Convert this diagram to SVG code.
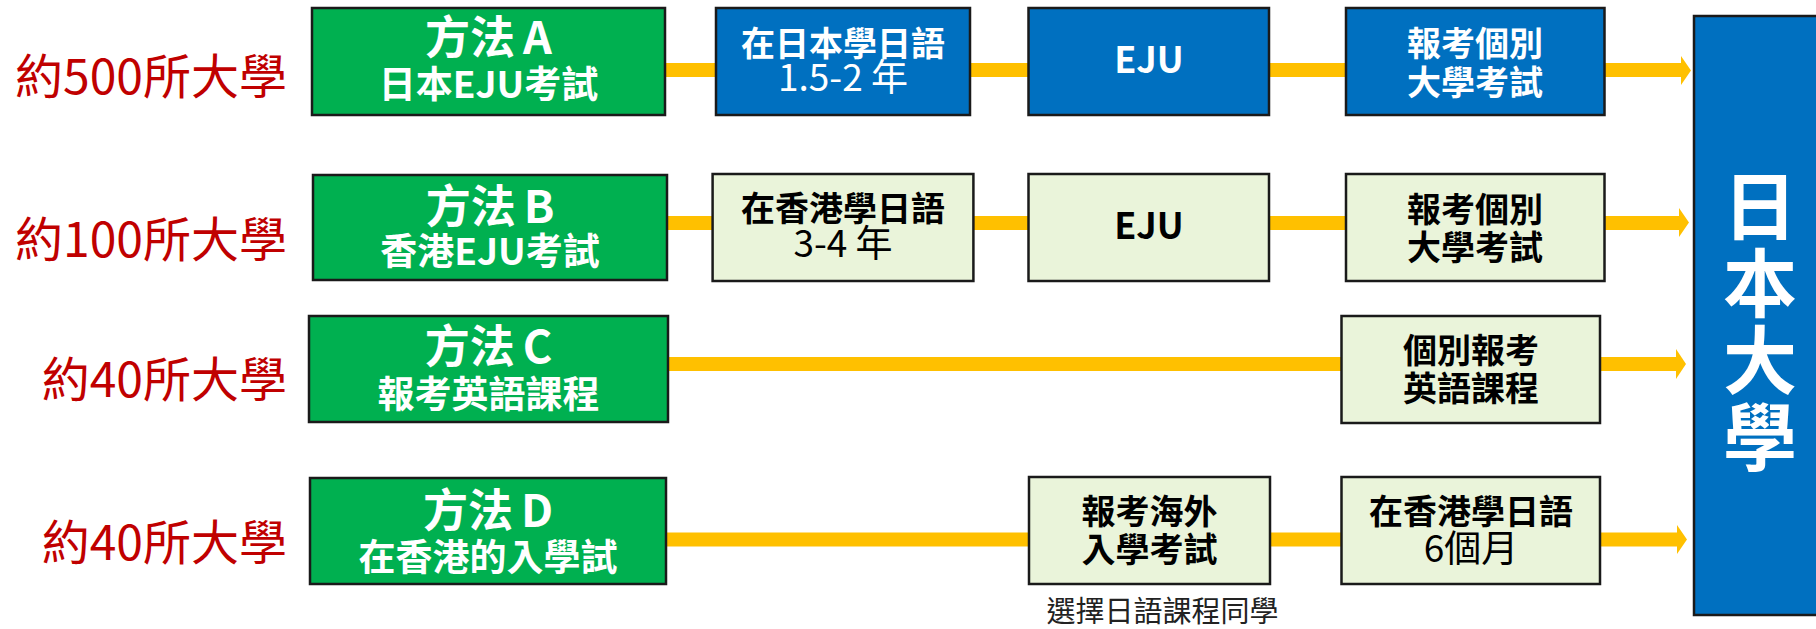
<svg xmlns="http://www.w3.org/2000/svg" width="1816" height="629" viewBox="0 0 1816 629">
<style>
.lbl{font-family:"Noto Sans CJK TC","Noto Sans CJK SC",sans-serif;font-size:48px;fill:#C00000;text-anchor:end}
.m{fill:#00B050;stroke:#1a1a1a;stroke-width:2.5}
.b{fill:#0070C0;stroke:#1a1a1a;stroke-width:2.5}
.l{fill:#EAF4DA;stroke:#1a1a1a;stroke-width:2.5}
.t{font-family:"Noto Sans CJK TC","Noto Sans CJK SC",sans-serif;text-anchor:middle}
.h1{font-size:45px;font-weight:bold;fill:#fff}
.h2{font-size:37px;font-weight:bold;fill:#fff}
.bw{font-size:34px;font-weight:bold;fill:#fff}
.rw{font-size:37px;font-weight:normal;fill:#fff}
.bk{font-size:34px;font-weight:bold;fill:#000}
.rk{font-size:37px;font-weight:normal;fill:#000}
.ej{font-size:36px;font-weight:bold}
.big{font-size:74px;font-weight:bold;fill:#fff}
.cap{font-size:29px;fill:#222}
.line{stroke:#FFC000;stroke-width:14;fill:none}
.head{fill:#FFC000}
</style>
<g id="connectors">
<line class="line" x1="665" y1="70" x2="1683" y2="70"/>
<polygon class="head" points="1681,56 1691,70.5 1681,85"/>
<line class="line" x1="667" y1="223" x2="1681" y2="223"/>
<polygon class="head" points="1679,208 1689,222.5 1679,237"/>
<line class="line" x1="668" y1="364" x2="1678" y2="364"/>
<polygon class="head" points="1676,349 1686,364 1676,379"/>
<line class="line" x1="666" y1="539.5" x2="1679" y2="539.5"/>
<polygon class="head" points="1677,525 1687,539.5 1677,554"/>
</g>
<g id="label-a"><text class="lbl" x="287" y="94">約500所大學</text></g>
<g id="label-b"><text class="lbl" x="287" y="257">約100所大學</text></g>
<g id="label-c"><text class="lbl" x="287" y="397">約40所大學</text></g>
<g id="label-d"><text class="lbl" x="287" y="560">約40所大學</text></g>
<g id="method-a"><rect class="m" x="312" y="8" width="353" height="107"/>
<text class="t h1" x="488.5" y="54">方法<tspan dx="8">A</tspan></text><text class="t h2" x="488.5" y="98">日本EJU考試</text></g>
<g id="method-b"><rect class="m" x="313" y="175" width="354" height="105"/>
<text class="t h1" x="490" y="223">方法<tspan dx="8">B</tspan></text><text class="t h2" x="490" y="265">香港EJU考試</text></g>
<g id="method-c"><rect class="m" x="309" y="316" width="359" height="106"/>
<text class="t h1" x="488.5" y="363">方法<tspan dx="8">C</tspan></text><text class="t h2" x="488.5" y="408">報考英語課程</text></g>
<g id="method-d"><rect class="m" x="310" y="478" width="356" height="106"/>
<text class="t h1" x="488" y="527">方法<tspan dx="8">D</tspan></text><text class="t h2" x="488" y="571">在香港的入學試</text></g>
<g id="a1"><rect class="b" x="716" y="8" width="254" height="107"/>
<text class="t bw" x="843" y="55.5">在日本學日語</text><text class="t rw" x="843" y="91">1.5-2 年</text></g>
<g id="a2"><rect class="b" x="1028.5" y="8" width="240.5" height="107"/>
<text class="t ej" fill="#fff" x="1149" y="73">EJU</text></g>
<g id="a3"><rect class="b" x="1346" y="8" width="258.5" height="107"/>
<text class="t bw" x="1475" y="55.5">報考個別</text><text class="t bw" x="1475" y="94.5">大學考試</text></g>
<g id="b1"><rect class="l" x="712.6" y="174" width="260.8" height="107"/>
<text class="t bk" x="843" y="221">在香港學日語</text><text class="t rk" x="843" y="257">3-4 年</text></g>
<g id="b2"><rect class="l" x="1028.5" y="174" width="240.5" height="107"/>
<text class="t ej" fill="#000" x="1149" y="239">EJU</text></g>
<g id="b3"><rect class="l" x="1346" y="174" width="258.5" height="107"/>
<text class="t bk" x="1475" y="221.5">報考個別</text><text class="t bk" x="1475" y="259.5">大學考試</text></g>
<g id="c3"><rect class="l" x="1341.5" y="316" width="258.5" height="107"/>
<text class="t bk" x="1471" y="362.5">個別報考</text><text class="t bk" x="1471" y="400.5">英語課程</text></g>
<g id="d2"><rect class="l" x="1029" y="477" width="241" height="107"/>
<text class="t bk" x="1149.5" y="524">報考海外</text><text class="t bk" x="1149.5" y="562">入學考試</text></g>
<g id="d3"><rect class="l" x="1341.5" y="477" width="258.5" height="107"/>
<text class="t bk" x="1471" y="524">在香港學日語</text><text class="t rk" x="1471" y="561.5">6個月</text></g>
<g id="caption"><text class="t cap" x="1162.5" y="622">選擇日語課程同學</text></g>
<g id="japan-univ"><rect class="b" x="1694" y="16" width="130" height="599"/>
<text class="t big" x="1760" y="234">日</text><text class="t big" x="1760" y="311">本</text><text class="t big" x="1760" y="388">大</text><text class="t big" x="1760" y="465">學</text></g>
</svg>
